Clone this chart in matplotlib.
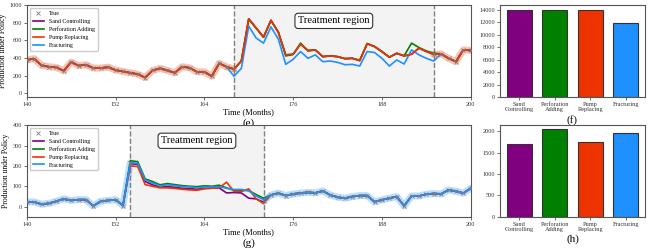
import numpy as np
import matplotlib
matplotlib.use('Agg')
import matplotlib.pyplot as plt

plt.rcParams['font.family'] = ['Liberation Serif', 'DejaVu Serif']

months = np.arange(140, 201)
policies = ['Sand Controlling', 'Perforation Adding', 'Pump Replacing', 'Fracturing']
bar_labels = ['Sand\nControlling', 'Perforation\nAdding', 'Pump\nReplacing', 'Fracturing']
colors = ['purple', 'green', '#ee3300', 'dodgerblue']

# ---- (e) well 1: observed production, treatment months 168-195
true_e = [377, 392, 315, 300, 292, 254, 354, 312, 323, 285, 285, 296, 262, 246, 231, 215,
          177, 258, 281, 258, 231, 300, 288, 242, 242, 192, 338, 300, 273,
          365, 846, 742, 638, 830, 692, 435, 442, 558, 485, 492, 415, 423, 415, 392, 396,
          369, 562, 531, 473, 408, 454, 423, 442, 512, 473, 442,
          446, 396, 358, 492, 485]
e_start, e_end = 168, 195
treat_e = {
    'Sand Controlling':   [273, 365, 846, 742, 638, 830, 692, 435, 442, 558, 485, 492, 415, 423, 415,
                           392, 396, 369, 562, 531, 473, 408, 454, 423, 442, 512, 473, 442],
    'Perforation Adding': [273, 365, 840, 738, 635, 825, 695, 423, 440, 569, 480, 490, 415, 423, 415,
                           392, 396, 375, 565, 528, 470, 410, 450, 425, 569, 519, 480, 454],
    'Pump Replacing':     [273, 365, 846, 742, 638, 830, 692, 435, 442, 558, 485, 492, 415, 423, 415,
                           392, 396, 369, 562, 531, 473, 408, 454, 423, 442, 512, 473, 442],
    'Fracturing':         [192, 281, 762, 627, 569, 754, 615, 327, 385, 473, 396, 435, 358, 365, 350,
                           323, 327, 308, 473, 462, 396, 308, 377, 331, 492, 435, 396, 365],
}
bars_f = [13980, 13960, 13950, 11850]

# ---- (g) well 2: treatment months 154-172
true_g = [23, 23, 11, 16, 26, 38, 30, 34, 34, 3, 26, 30, 34, 5,
          216, 213, 131, 116, 102, 107, 103, 98, 97, 93, 95, 97, 98, 90, 84, 84, 77, 52, 25,
          57, 66, 54, 62, 66, 70, 67, 77, 57, 46, 41, 49, 54, 54, 23, 33, 41, 49, 3,
          52, 52, 61, 64, 62, 82, 75, 66, 90]
g_start, g_end = 154, 172
treat_g = {
    'Sand Controlling':   [211, 208, 123, 107, 95, 98, 95, 90, 89, 85, 90, 92, 92, 67, 69, 67, 41, 38, 21],
    'Perforation Adding': [225, 221, 136, 123, 107, 113, 108, 103, 100, 98, 102, 100, 105, 92, 80, 80, 79, 59, 41],
    'Pump Replacing':     [200, 197, 108, 100, 92, 92, 89, 85, 82, 80, 87, 90, 92, 120, 75, 74, 87, 38, 15],
    'Fracturing':         [216, 213, 131, 116, 102, 107, 103, 98, 97, 93, 95, 97, 98, 90, 84, 84, 77, 52, 34],
}
bars_h = [1690, 2039, 1736, 1946]


def style_axes(ax):
    for s in ax.spines.values():
        s.set_color('#555555')
        s.set_linewidth(0.8)
    ax.tick_params(labelsize=4.5, length=2, width=0.5, pad=1.5, colors='#333333')


def line_panel(ax, true, start, end, treat, top_idx, ylim, yticks, label):
    true = np.array(true, dtype=float)
    ax.axvspan(start, end, color='#f3f3f3', zorder=0)
    ax.axvline(start, color='gray', ls='--', lw=1)
    ax.axvline(end, color='gray', ls='--', lw=1)
    order = [i for i in range(4) if i != top_idx] + [top_idx]
    for i in order:
        name = policies[i]
        y = true.copy()
        y[start - 140:end - 140 + 1] = treat[name]
        ax.plot(months, y, color=colors[i], lw=1.2, label=name, zorder=3 + (i == top_idx))
    # shaded band + markers for the observed part outside treatment
    c = colors[top_idx]
    pre = months <= start
    post = months >= end
    for m in (pre, post):
        ax.plot(months[m], true[m], color=c, lw=5, alpha=0.3, solid_capstyle='round', zorder=2)
    obs = pre | post
    ax.plot(months[obs], true[obs], 'x', color='gray', ms=2.5, mew=0.6, label='True', zorder=6)
    ax.set_xlim(140, 200)
    ax.set_xticks([140, 152, 164, 176, 188, 200])
    ax.set_ylim(*ylim)
    ax.set_yticks(yticks)
    ax.set_ylabel('Production under Policy', fontsize=5.5, labelpad=2)
    ax.set_xlabel('Time (Months)', fontsize=6, labelpad=1)
    ax.text(0.5, -0.29, label, transform=ax.transAxes, ha='center', va='center', fontsize=8)
    ax.text((start + end) / 2, ylim[1] - (ylim[1] - ylim[0]) * 0.17, 'Treatment region',
            ha='center', va='center', fontsize=7.5,
            bbox=dict(boxstyle='round,pad=0.3', fc='white', ec='#333333', lw=0.8), zorder=7)
    h, l = ax.get_legend_handles_labels()
    hmap = dict(zip(l, h))
    names = ['True'] + policies
    ax.legend([hmap[n] for n in names], names, loc='upper left', fontsize=4.2,
              handlelength=2.0, borderpad=0.5, labelspacing=0.45, framealpha=1,
              edgecolor='#cccccc')
    style_axes(ax)


def bar_panel(ax, vals, yticks, label):
    ax.bar(np.arange(4), vals, width=0.7, color=colors, edgecolor='#333333', lw=0.8)
    ax.set_xticks(np.arange(4))
    ax.set_xticklabels(bar_labels, fontsize=4.5, linespacing=1.0)
    ax.set_yticks(yticks)
    ax.set_xlabel(label, fontsize=8, labelpad=2)
    style_axes(ax)


fig = plt.figure(figsize=(6.52, 2.52), dpi=100)
ax_e = fig.add_axes([0.041, 0.615, 0.681, 0.364])
ax_f = fig.add_axes([0.767, 0.614, 0.222, 0.365])
ax_g = fig.add_axes([0.041, 0.140, 0.681, 0.363])
ax_h = fig.add_axes([0.767, 0.139, 0.222, 0.365])

line_panel(ax_e, true_e, e_start, e_end, treat_e, 2, (-45, 1000), range(0, 1001, 200), '(e)')
line_panel(ax_g, true_g, g_start, g_end, treat_g, 3, (-50, 400), range(0, 401, 100), '(g)')
bar_panel(ax_f, bars_f, range(0, 14001, 2000), '(f)')
bar_panel(ax_h, bars_h, range(0, 2001, 500), '(h)')

fig.savefig('out.png', dpi=100)
